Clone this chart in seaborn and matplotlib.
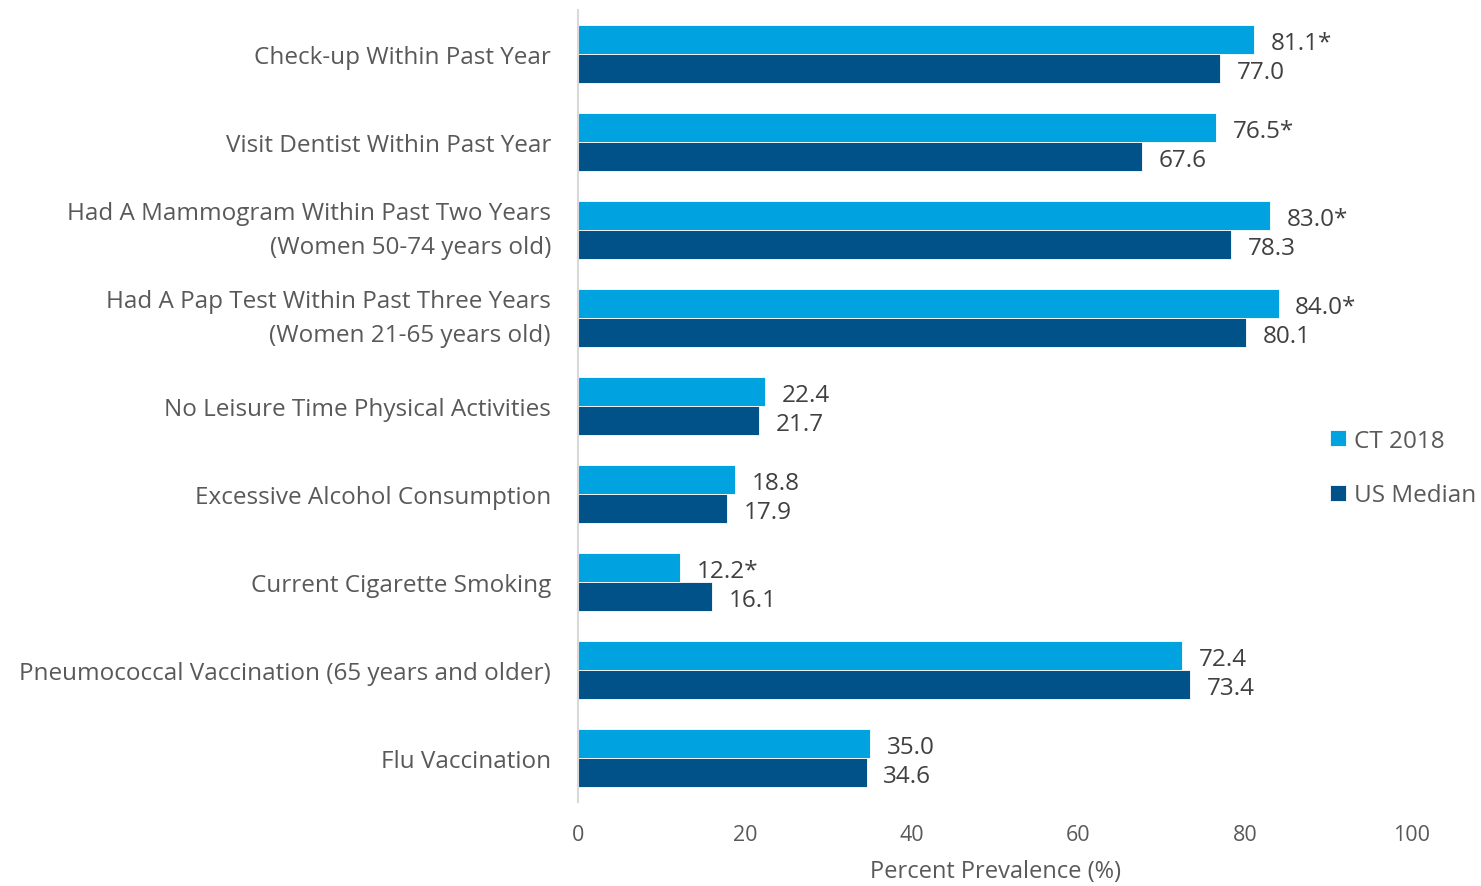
import matplotlib
matplotlib.use("Agg")
import matplotlib.pyplot as plt
import seaborn as sns
import pandas as pd

categories = [
    "Check-up Within Past Year",
    "Visit Dentist Within Past Year",
    "Had A Mammogram Within Past Two Years\n(Women 50-74 years old)",
    "Had A Pap Test Within Past Three Years\n(Women 21-65 years old)",
    "No Leisure Time Physical Activities",
    "Excessive Alcohol Consumption",
    "Current Cigarette Smoking",
    "Pneumococcal Vaccination (65 years and older)",
    "Flu Vaccination",
]
ct_2018 = [81.1, 76.5, 83.0, 84.0, 22.4, 18.8, 12.2, 72.4, 35.0]
ct_labels = ["81.1*", "76.5*", "83.0*", "84.0*", "22.4", "18.8", "12.2*", "72.4", "35.0"]
us_median = [77.0, 67.6, 78.3, 80.1, 21.7, 17.9, 16.1, 73.4, 34.6]
us_labels = ["77.0", "67.6", "78.3", "80.1", "21.7", "17.9", "16.1", "73.4", "34.6"]
series_names = ["CT 2018", "US Median"]
x_ticks = [0, 20, 40, 60, 80, 100]
x_label = "Percent Prevalence (%)"

df = pd.DataFrame({
    "category": categories * 2,
    "value": ct_2018 + us_median,
    "series": [series_names[0]] * len(categories) + [series_names[1]] * len(categories),
})

sns.set_style("white")
plt.rcParams["font.family"] = ["Open Sans", "DejaVu Sans"]

fig = plt.figure(figsize=(14.81, 8.87), dpi=100)
ax = fig.add_axes([578 / 1481, 1 - 803 / 887, (1412 - 578) / 1481, (803 - 11) / 887])

palette = {"CT 2018": "#00A2DF", "US Median": "#005288"}
sns.barplot(data=df, y="category", x="value", hue="series", orient="h",
            palette=palette, saturation=1, width=0.66, ax=ax,
            edgecolor="white", linewidth=0.6, legend=True)

ax.set_xlim(0, 100)
ax.set_xticks(x_ticks)
ax.set_xticklabels([str(t) for t in x_ticks])
ax.set_xlabel(x_label, fontsize=17, color="#595959", labelpad=10)
ax.set_ylabel("")
ax.tick_params(axis="x", colors="#595959", labelsize=15.5, length=0, pad=16)
ax.tick_params(axis="y", colors="#595959", labelsize=17.5, length=0, pad=19.5)
for lab in ax.get_yticklabels():
    lab.set_horizontalalignment("right")
    lab.set_multialignment("right")
    lab.set_linespacing(1.55)
    if "\n" in lab.get_text():
        lab.set_verticalalignment("center")

for s in ["top", "right", "bottom"]:
    ax.spines[s].set_visible(False)
ax.spines["left"].set_color("#D9D9D9")
ax.spines["left"].set_linewidth(1.5)

# value labels
for container, labels in zip(ax.containers, [ct_labels, us_labels]):
    anns = ax.bar_label(container, labels=labels, padding=12, fontsize=17.5, color="#404040")
    for a in anns:
        a.xyann = (12, -2.2)

handles, lbls = ax.get_legend_handles_labels()
ax.legend(handles, lbls, loc="center left", bbox_to_anchor=(1308 / 1481, 1 - 469 / 887),
          bbox_transform=fig.transFigure, frameon=False, fontsize=17.5,
          handlelength=0.65, handleheight=0.65, handletextpad=0.35, labelspacing=1.25,
          labelcolor="#595959")

fig.savefig("out.png", dpi=100)
